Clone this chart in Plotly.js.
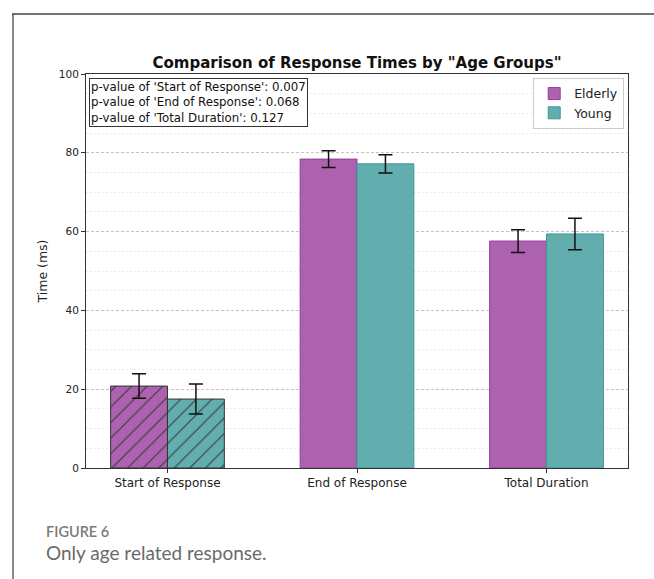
<!DOCTYPE html>
<html>
<head>
<meta charset="utf-8">
<script src="https://cdn.plot.ly/plotly-3.0.1.min.js"></script>
<style>
html,body{margin:0;padding:0;background:#fff;}
#chart{width:654px;height:579px;}
</style>
</head>
<body>
<div id="chart"></div>
<script>
const categories = ["Start of Response", "End of Response", "Total Duration"];
const elderlyMean = [20.8, 78.4, 57.6];
const elderlyErr  = [3.1, 2.1, 2.9];
const youngMean   = [17.5, 77.2, 59.4];
const youngErr    = [3.8, 2.3, 4.0];
const pValues = [0.007, 0.068, 0.127];
const hatchShapes = ["/", "", ""];

const purple = "rgb(172,98,174)";
const teal = "rgb(98,174,174)";

const edgeElderly = categories.map((c,i)=> hatchShapes[i] ? "#333333" : "rgb(150,60,160)");
const edgeYoung = categories.map((c,i)=> hatchShapes[i] ? "#333333" : "rgb(60,150,150)");

const traces = [
  {
    type: "bar", name: "Elderly", x: categories, y: elderlyMean, showlegend: false,
    offsetgroup: "e",
    marker: {color: purple, line: {color: edgeElderly, width: 1},
      pattern: {shape: hatchShapes, fgcolor: "#3a3a3a", bgcolor: purple, fillmode: "replace", size: 11, solidity: 0.1}},
    error_y: {type: "data", array: elderlyErr, color: "#111", thickness: 1.5, width: 7}
  },
  {
    type: "bar", name: "Young", x: categories, y: youngMean, showlegend: false,
    offsetgroup: "y",
    marker: {color: teal, line: {color: edgeYoung, width: 1},
      pattern: {shape: hatchShapes, fgcolor: "#3a3a3a", bgcolor: teal, fillmode: "replace", size: 11, solidity: 0.1}},
    error_y: {type: "data", array: youngErr, color: "#111", thickness: 1.5, width: 7}
  },
  {type: "bar", name: "Elderly", x: [null], y: [null], marker: {color: purple, line: {color: "rgb(150,60,160)", width: 1}}, showlegend: true},
  {type: "bar", name: "Young", x: [null], y: [null], marker: {color: teal, line: {color: "rgb(60,150,150)", width: 1}}, showlegend: true}
];

const L = 86, R = 26, T = 74, B = 111;
const W = 654, H = 579;
const pw = W - L - R, ph = H - T - B;
const px = v => (v - L) / pw;
const py = v => (H - B - v) / ph;

const pText = categories.map((c,i)=> "p-value of '" + c + "': " + pValues[i].toFixed(3)).join("<br>");

const layout = {
  width: W, height: H,
  margin: {l: L, r: R, t: T, b: B, pad: 0},
  paper_bgcolor: "#fff", plot_bgcolor: "#fff",
  font: {family: "DejaVu Sans", color: "#222", size: 12},
  barmode: "group", bargap: 0.4, bargroupgap: 0,
  title: {text: "<b>Comparison of Response Times by \"Age Groups\"</b>",
    font: {family: "DejaVu Sans", size: 15, color: "#111"},
    x: px(357), xref: "paper", xanchor: "center", y: 1 - 63/H, yanchor: "middle"},
  xaxis: {
    type: "category", range: [-0.43, 2.43],
    showline: true, mirror: true, linecolor: "#333", linewidth: 1,
    ticks: "outside", ticklen: 4, tickcolor: "#333",
    tickfont: {family: "DejaVu Sans", size: 12, color: "#222"},
    showgrid: false, zeroline: false
  },
  yaxis: {
    range: [0, 100], dtick: 20, tick0: 0,
    showline: true, mirror: true, linecolor: "#333", linewidth: 1,
    ticks: "outside", ticklen: 4, tickcolor: "#333",
    tickfont: {family: "DejaVu Sans", size: 10.5, color: "#222"},
    showgrid: true, gridcolor: "#b5b5b5", griddash: "3px,2px", gridwidth: 0.8,
    minor: {dtick: 5, tick0: 0, showgrid: true, gridcolor: "#e6e6e6", griddash: "2px,2px", gridwidth: 0.8, ticks: ""},
    zeroline: false,
    title: {text: "Time (ms)", font: {family: "DejaVu Sans", size: 12.5, color: "#222"}, standoff: 8}
  },
  legend: {
    x: 0.993, y: 0.99, xanchor: "right", yanchor: "top",
    bgcolor: "rgba(255,255,255,0.9)", bordercolor: "#cccccc", borderwidth: 1,
    font: {family: "DejaVu Sans", size: 12.5, color: "#222"},
    itemwidth: 30, tracegroupgap: 2
  },
  annotations: [
    {xref: "paper", yref: "paper", x: px(89), y: py(78), xanchor: "left", yanchor: "top",
     text: pText, align: "left", showarrow: false,
     font: {family: "DejaVu Sans", size: 11.8, color: "#111"},
     bordercolor: "#333", borderwidth: 1, borderpad: 1, bgcolor: "#fff"},
    {xref: "paper", yref: "paper", x: px(44), y: py(531), xanchor: "left", yanchor: "middle",
     text: "FIGURE 6", showarrow: false,
     font: {family: "Lato", size: 14.5, color: "#7a7a7a", weight: 600}},
    {xref: "paper", yref: "paper", x: px(44), y: py(552), xanchor: "left", yanchor: "middle",
     text: "Only age related response.", showarrow: false,
     font: {family: "Lato", size: 19, color: "#6a6a6a"}}
  ],
  shapes: [
    {type: "line", xref: "paper", yref: "paper", x0: px(13), x1: px(13), y0: py(14), y1: py(579),
     line: {color: "#8a8a8a", width: 2}},
    {type: "line", xref: "paper", yref: "paper", x0: px(12), x1: px(654), y0: py(14), y1: py(14),
     line: {color: "#444", width: 1.5}}
  ]
};

Plotly.newPlot("chart", traces, layout, {displayModeBar: false, staticPlot: true});
</script>
</body>
</html>
